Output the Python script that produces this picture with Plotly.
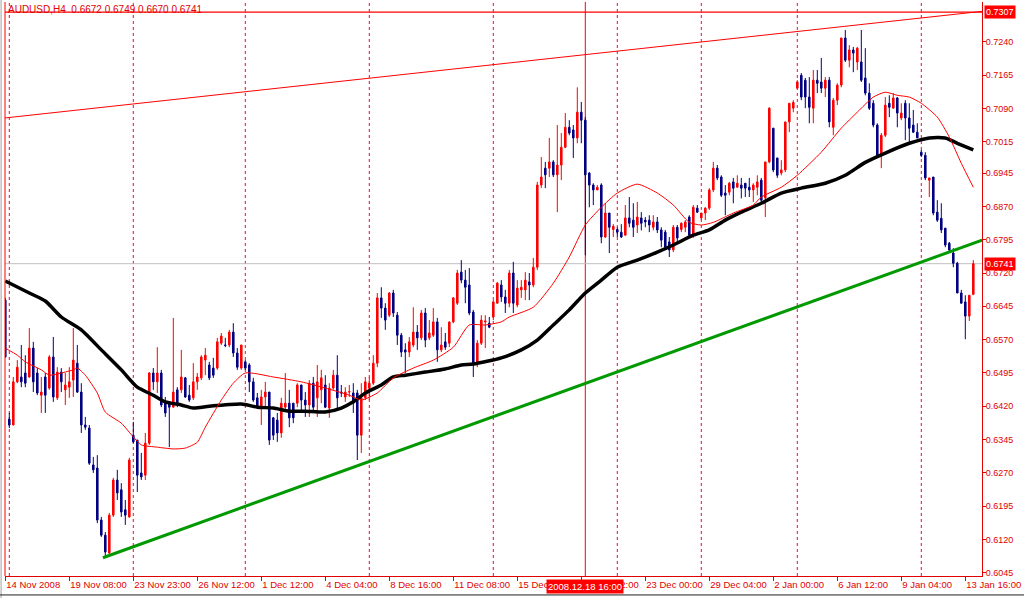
import plotly.graph_objects as go

title_text = "AUDUSD,H4  0.6672 0.6749 0.6670 0.6741"

opens = [0.6659,0.6391,0.6378,0.6475,0.6486,0.6495,0.6486,0.6551,0.6495,0.6445,
0.6486,0.6461,0.6531,0.6439,0.6497,0.6457,0.6463,0.6479,0.6517,0.6452,
0.6378,0.6371,0.6288,0.6281,0.6164,0.6130,0.6090,0.6175,0.6254,0.6232,
0.6187,0.6171,0.6355,0.6344,0.6270,0.6265,0.6337,0.6495,0.6475,0.6495,
0.6427,0.6430,0.6418,0.6457,0.6457,0.6484,0.6445,0.6439,0.6475,0.6484,
0.6524,0.6513,0.6506,0.6506,0.6562,0.6558,0.6558,0.6587,0.6540,0.6506,
0.6520,0.6513,0.6475,0.6439,0.6418,0.6441,0.6452,0.6394,0.6389,0.6360,
0.6418,0.6427,0.6427,0.6427,0.6468,0.6434,0.6423,0.6472,0.6439,0.6457,
0.6468,0.6416,0.6461,0.6490,0.6452,0.6441,0.6452,0.6450,0.6450,0.6355,
0.6439,0.6461,0.6472,0.6517,0.6664,0.6641,0.6625,0.6675,0.6625,0.6580,
0.6547,0.6542,0.6558,0.6587,0.6574,0.6630,0.6574,0.6580,0.6610,0.6547,
0.6565,0.6562,0.6610,0.6652,0.6722,0.6704,0.6693,0.6632,0.6517,0.6562,
0.6610,0.6607,0.6621,0.6652,0.6693,0.6666,0.6652,0.6720,0.6648,0.6682,
0.6682,0.6700,0.6693,0.6733,0.6918,0.6956,0.6956,0.6970,0.6941,0.6963,
0.7003,0.7048,0.7042,0.7024,0.7082,0.7064,0.6945,0.6918,0.6907,0.6918,
0.6801,0.6855,0.6818,0.6818,0.6812,0.6805,0.6844,0.6839,0.6828,0.6844,
0.6839,0.6839,0.6823,0.6835,0.6817,0.6812,0.6790,0.6772,0.6823,0.6818,
0.6823,0.6846,0.6805,0.6866,0.6844,0.6855,0.6866,0.6907,0.6956,0.6936,
0.6900,0.6902,0.6925,0.6913,0.6918,0.6922,0.6913,0.6907,0.6913,0.6929,
0.6889,0.6970,0.7046,0.6979,0.6945,0.6952,0.7060,0.7091,0.7136,0.7165,
0.7154,0.7116,0.7091,0.7154,0.7150,0.7136,0.7154,0.7048,0.7109,0.7143,
0.7249,0.7199,0.7222,0.7195,0.7195,0.7159,0.7125,0.7102,0.7053,0.6985,
0.7030,0.7102,0.7091,0.7114,0.7069,0.7102,0.7069,0.7053,0.7037,0.6992,
0.6985,0.6929,0.6936,0.6857,0.6843,0.6821,0.6787,0.6765,0.6742,0.6675,
0.6655,0.6623,0.6672]

highs = [0.6664,0.6405,0.6486,0.6524,0.6558,0.6535,0.6596,0.6565,0.6506,0.6486,
0.6495,0.6535,0.6576,0.6508,0.6506,0.6495,0.6508,0.6596,0.6558,0.6472,
0.6396,0.6378,0.6306,0.6310,0.6171,0.6137,0.6180,0.6259,0.6277,0.6247,
0.6209,0.6304,0.6385,0.6344,0.6315,0.6360,0.6497,0.6506,0.6553,0.6502,
0.6441,0.6430,0.6619,0.6463,0.6547,0.6486,0.6468,0.6517,0.6495,0.6535,
0.6551,0.6520,0.6529,0.6574,0.6585,0.6574,0.6592,0.6607,0.6551,0.6558,
0.6524,0.6517,0.6484,0.6450,0.6457,0.6475,0.6452,0.6396,0.6405,0.6439,
0.6495,0.6457,0.6427,0.6472,0.6468,0.6452,0.6479,0.6486,0.6513,0.6502,
0.6490,0.6472,0.6502,0.6535,0.6468,0.6463,0.6468,0.6472,0.6457,0.6472,
0.6486,0.6486,0.6535,0.6675,0.6688,0.6652,0.6677,0.6682,0.6632,0.6585,
0.6562,0.6576,0.6643,0.6603,0.6637,0.6641,0.6614,0.6641,0.6619,0.6598,
0.6585,0.6610,0.6666,0.6727,0.6749,0.6727,0.6731,0.6637,0.6569,0.6625,
0.6625,0.6621,0.6659,0.6700,0.6704,0.6682,0.6727,0.6745,0.6704,0.6704,
0.6722,0.6720,0.6754,0.6925,0.6981,0.6970,0.7024,0.6974,0.7053,0.7035,
0.7080,0.7064,0.7053,0.7138,0.7105,0.7071,0.6947,0.6922,0.6918,0.6922,
0.6877,0.6855,0.6830,0.6823,0.6830,0.6873,0.6891,0.6877,0.6880,0.6857,
0.6846,0.6850,0.6850,0.6846,0.6823,0.6817,0.6801,0.6828,0.6828,0.6834,
0.6839,0.6850,0.6873,0.6873,0.6855,0.6868,0.6911,0.6970,0.6963,0.6940,
0.6918,0.6925,0.6934,0.6940,0.6934,0.6922,0.6934,0.6922,0.6940,0.6934,
0.6970,0.7093,0.7046,0.6979,0.6974,0.7060,0.7102,0.7109,0.7154,0.7170,
0.7159,0.7161,0.7177,0.7177,0.7204,0.7161,0.7161,0.7114,0.7147,0.7249,
0.7267,0.7233,0.7229,0.7229,0.7267,0.7226,0.7147,0.7109,0.7057,0.7035,
0.7116,0.7120,0.7125,0.7116,0.7102,0.7109,0.7102,0.7087,0.7057,0.6997,
0.6992,0.6934,0.6936,0.6884,0.6877,0.6821,0.6790,0.6776,0.6745,0.6682,
0.6670,0.6670,0.6749]

lows = [0.6530,0.6371,0.6377,0.6472,0.6463,0.6463,0.6484,0.6452,0.6445,0.6405,
0.6405,0.6457,0.6430,0.6434,0.6452,0.6423,0.6439,0.6441,0.6450,0.6360,
0.6367,0.6288,0.6270,0.6157,0.6126,0.6081,0.6085,0.6171,0.6209,0.6171,
0.6153,0.6169,0.6337,0.6227,0.6254,0.6254,0.6333,0.6457,0.6450,0.6418,
0.6396,0.6328,0.6418,0.6418,0.6450,0.6439,0.6430,0.6434,0.6457,0.6479,
0.6490,0.6479,0.6484,0.6502,0.6558,0.6553,0.6553,0.6531,0.6502,0.6502,
0.6502,0.6452,0.6430,0.6416,0.6378,0.6418,0.6333,0.6344,0.6340,0.6349,
0.6412,0.6373,0.6382,0.6418,0.6405,0.6396,0.6396,0.6407,0.6396,0.6427,
0.6416,0.6394,0.6457,0.6412,0.6441,0.6430,0.6441,0.6405,0.6299,0.6315,
0.6434,0.6434,0.6468,0.6508,0.6619,0.6592,0.6621,0.6621,0.6558,0.6531,
0.6495,0.6531,0.6553,0.6547,0.6569,0.6553,0.6569,0.6576,0.6520,0.6542,
0.6547,0.6553,0.6607,0.6648,0.6697,0.6652,0.6625,0.6486,0.6508,0.6558,
0.6551,0.6596,0.6614,0.6652,0.6655,0.6630,0.6643,0.6630,0.6643,0.6664,
0.6659,0.6659,0.6688,0.6727,0.6911,0.6911,0.6936,0.6936,0.6857,0.6929,
0.7001,0.7030,0.6979,0.7012,0.7012,0.6760,0.6868,0.6873,0.6907,0.6787,
0.6799,0.6765,0.6801,0.6801,0.6799,0.6805,0.6823,0.6801,0.6810,0.6816,
0.6823,0.6812,0.6816,0.6810,0.6778,0.6772,0.6756,0.6767,0.6787,0.6812,
0.6812,0.6801,0.6799,0.6855,0.6839,0.6839,0.6862,0.6902,0.6929,0.6891,
0.6850,0.6895,0.6877,0.6913,0.6888,0.6891,0.6891,0.6880,0.6895,0.6880,
0.6846,0.6967,0.6947,0.6934,0.6940,0.6947,0.7037,0.7082,0.7136,0.7109,
0.7091,0.7057,0.7057,0.7125,0.7125,0.7116,0.7048,0.7030,0.7098,0.7138,
0.7195,0.7183,0.7172,0.7177,0.7150,0.7120,0.7087,0.7048,0.6981,0.6956,
0.7026,0.7071,0.7091,0.7048,0.7064,0.7019,0.7012,0.7035,0.7024,0.6981,
0.6929,0.6891,0.6850,0.6835,0.6810,0.6778,0.6765,0.6733,0.6675,0.6652,
0.6571,0.6612,0.6670]

closes = [0.6531,0.6378,0.6475,0.6508,0.6475,0.6472,0.6551,0.6475,0.6450,0.6452,
0.6445,0.6531,0.6441,0.6497,0.6475,0.6468,0.6475,0.6524,0.6452,0.6378,
0.6373,0.6292,0.6277,0.6164,0.6130,0.6092,0.6175,0.6254,0.6225,0.6182,
0.6175,0.6299,0.6340,0.6265,0.6261,0.6337,0.6495,0.6475,0.6495,0.6423,
0.6405,0.6418,0.6452,0.6427,0.6486,0.6441,0.6434,0.6475,0.6486,0.6531,
0.6535,0.6484,0.6490,0.6565,0.6578,0.6557,0.6587,0.6540,0.6508,0.6558,
0.6506,0.6475,0.6434,0.6418,0.6441,0.6452,0.6344,0.6355,0.6360,0.6427,
0.6427,0.6394,0.6394,0.6468,0.6434,0.6423,0.6472,0.6418,0.6475,0.6484,
0.6418,0.6461,0.6490,0.6439,0.6450,0.6452,0.6453,0.6427,0.6355,0.6439,
0.6475,0.6472,0.6517,0.6664,0.6641,0.6614,0.6675,0.6630,0.6580,0.6542,
0.6542,0.6565,0.6587,0.6574,0.6630,0.6569,0.6585,0.6610,0.6547,0.6558,
0.6553,0.6610,0.6664,0.6720,0.6704,0.6688,0.6630,0.6517,0.6562,0.6614,
0.6612,0.6598,0.6655,0.6697,0.6666,0.6652,0.6720,0.6652,0.6686,0.6688,
0.6704,0.6693,0.6733,0.6918,0.6936,0.6941,0.6970,0.6941,0.6963,0.7003,
0.7048,0.7035,0.7024,0.7082,0.7064,0.6941,0.6918,0.6907,0.6913,0.6801,
0.6855,0.6823,0.6825,0.6812,0.6801,0.6844,0.6832,0.6823,0.6846,0.6832,
0.6835,0.6828,0.6835,0.6817,0.6794,0.6778,0.6772,0.6823,0.6799,0.6832,
0.6835,0.6805,0.6868,0.6857,0.6855,0.6866,0.6907,0.6956,0.6934,0.6895,
0.6895,0.6922,0.6911,0.6922,0.6911,0.6911,0.6907,0.6918,0.6925,0.6884,
0.6970,0.7091,0.6952,0.6940,0.6952,0.7060,0.7102,0.7104,0.7150,0.7116,
0.7116,0.7093,0.7154,0.7147,0.7136,0.7154,0.7060,0.7109,0.7143,0.7249,
0.7199,0.7222,0.7215,0.7226,0.7154,0.7125,0.7091,0.7053,0.6985,0.7030,
0.7098,0.7093,0.7114,0.7080,0.7080,0.7069,0.7046,0.7037,0.7024,0.6985,
0.6934,0.6934,0.6855,0.6839,0.6817,0.6783,0.6772,0.6742,0.6675,0.6652,
0.6623,0.6670,0.6741]

bars = list(range(len(opens)))

x_tick_index = [0, 16, 32, 48, 64, 80, 96, 112, 128, 144, 160, 176, 192, 208, 224, 240]
x_tick_labels = ["14 Nov 2008", "19 Nov 08:00", "23 Nov 23:00", "26 Nov 12:00",
                 "1 Dec 12:00", "4 Dec 04:00", "8 Dec 16:00", "11 Dec 08:00",
                 "15 Dec 20:00", "18 Dec 12:00", "23 Dec 00:00", "29 Dec 04:00",
                 "2 Jan 00:00", "6 Jan 12:00", "9 Jan 04:00", "13 Jan 16:00"]
y_tick_labels = ["0.7240", "0.7165", "0.7090", "0.7015", "0.6945", "0.6870",
                 "0.6795", "0.6720", "0.6645", "0.6570", "0.6495", "0.6420",
                 "0.6345", "0.6270", "0.6195", "0.6120", "0.6045"]

slow_ma_index = [0, 6, 10, 14, 19, 24, 29, 33, 37, 40, 44, 47, 51, 59, 63, 67, 71, 75, 80,
                 84, 87, 90, 94, 97, 100, 105, 110, 114, 117, 124, 129, 133, 137, 141, 145,
                 149, 153, 158, 163, 167, 172, 176, 180, 184, 189, 194, 199, 205, 210, 215,
                 220, 226, 231, 235, 238, 242]
slow_ma_value = [0.6702, 0.6675, 0.6657, 0.6621, 0.6592, 0.6547, 0.6502, 0.6463, 0.6445,
                 0.6430, 0.6423, 0.6416, 0.6420, 0.6425, 0.6418, 0.6416, 0.6409, 0.6409,
                 0.6407, 0.6416, 0.6430, 0.6450, 0.6468, 0.6486, 0.6490, 0.6497, 0.6504,
                 0.6513, 0.6515, 0.6529, 0.6547, 0.6569, 0.6603, 0.6637, 0.6675, 0.6704,
                 0.6733, 0.6749, 0.6767, 0.6783, 0.6805, 0.6817, 0.6839, 0.6857, 0.6877,
                 0.6900, 0.6911, 0.6922, 0.6940, 0.6969, 0.6990, 0.7012, 0.7024, 0.7024,
                 0.7012, 0.6997]

fast_ma_index = [0, 3, 5, 9, 11, 14, 17, 18, 20, 23, 25, 29, 32, 34, 38, 42, 45, 48, 50,
                 54, 57, 60, 67, 74, 80, 86, 89, 93, 97, 102, 107, 112, 116, 120, 124, 126,
                 132, 137, 141, 145, 149, 153, 158, 163, 167, 171, 174, 177, 182, 187, 189,
                 194, 198, 204, 209, 213, 217, 220, 223, 226, 229, 233, 236, 239, 242]
fast_ma_value = [0.6551, 0.6535, 0.6520, 0.6502, 0.6490, 0.6495, 0.6502, 0.6506, 0.6490,
                 0.6450, 0.6407, 0.6382, 0.6351, 0.6333, 0.6328, 0.6324, 0.6326, 0.6339,
                 0.6373, 0.6434, 0.6472, 0.6495, 0.6486, 0.6475, 0.6461, 0.6445, 0.6434,
                 0.6450, 0.6484, 0.6506, 0.6524, 0.6553, 0.6603, 0.6603, 0.6610, 0.6621,
                 0.6643, 0.6697, 0.6756, 0.6828, 0.6868, 0.6900, 0.6920, 0.6900, 0.6873,
                 0.6834, 0.6828, 0.6834, 0.6855, 0.6873, 0.6891, 0.6913, 0.6940, 0.6992,
                 0.7046, 0.7082, 0.7116, 0.7127, 0.7120, 0.7116, 0.7102, 0.7071, 0.7026,
                 0.6967, 0.6913]

support_index = [24.4, 244.2]
support_value = [0.6079, 0.6794]
resistance_index = [-0.1, 244.2]
resistance_value = [0.7069, 0.7309]

level_price = 0.7307
last_price = 0.6741
separator_index = [1, 32, 60, 91, 122, 153, 174, 198, 229]
cursor_index = 145
cursor_label = "2008.12.18 16:00"

RED = "#ff0000"
AXRED = "#e00000"
NAVY = "#000080"
FONT = "Liberation Sans"

fig = go.Figure()

fig.add_trace(go.Candlestick(
    x=bars, open=opens, high=highs, low=lows, close=closes,
    increasing=dict(line=dict(color=RED, width=1), fillcolor=RED),
    decreasing=dict(line=dict(color=NAVY, width=1), fillcolor=NAVY),
    whiskerwidth=0, hoverinfo="skip", showlegend=False))

fig.add_trace(go.Scatter(x=slow_ma_index, y=slow_ma_value, mode="lines",
                         line=dict(color="#000000", width=3.5, shape="spline", smoothing=0.6),
                         hoverinfo="skip", showlegend=False))
fig.add_trace(go.Scatter(x=fast_ma_index, y=fast_ma_value, mode="lines",
                         line=dict(color=RED, width=1, shape="spline", smoothing=0.6),
                         hoverinfo="skip", showlegend=False))
fig.add_trace(go.Scatter(x=support_index, y=support_value, mode="lines",
                         line=dict(color="#009900", width=3),
                         hoverinfo="skip", showlegend=False))
fig.add_trace(go.Scatter(x=resistance_index, y=resistance_value, mode="lines",
                         line=dict(color=RED, width=1),
                         hoverinfo="skip", showlegend=False))

shapes = []
for s in separator_index:
    shapes.append(dict(type="line", xref="x", yref="paper", x0=s, x1=s, y0=0, y1=1,
                       line=dict(color="#ff0030", width=1, dash="3px,3px"), layer="below"))
shapes.append(dict(type="line", xref="x", yref="paper", x0=cursor_index, x1=cursor_index,
                   y0=0, y1=1, line=dict(color=RED, width=1), layer="below"))
shapes.append(dict(type="line", xref="paper", yref="y", x0=0, x1=1, y0=last_price, y1=last_price,
                   line=dict(color="#c0c0c0", width=1), layer="below"))
shapes.append(dict(type="line", xref="paper", yref="y", x0=0, x1=1, y0=level_price, y1=level_price,
                   line=dict(color=RED, width=1.2)))
shapes.append(dict(type="line", xref="paper", yref="paper", x0=0, x1=0, y0=0, y1=1,
                   line=dict(color=RED, width=1)))
shapes.append(dict(type="line", xref="paper", yref="paper", x0=-0.004, x1=-0.004, y0=-0.05, y1=1.01,
                   line=dict(color="#a0a0a0", width=1)))
shapes.append(dict(type="line", xref="paper", yref="paper", x0=-0.01, x1=1.05, y0=-0.033, y1=-0.033,
                   line=dict(color="#202020", width=1)))

annotations = [
    dict(text=title_text, xref="paper", yref="paper", x=0, y=1, xanchor="left", yanchor="top",
         xshift=1, yshift=0, showarrow=False, font=dict(family=FONT, size=10, color=AXRED)),
    dict(text=f"{level_price:.4f}", xref="paper", yref="y", x=1, y=level_price, xanchor="left",
         xshift=2, showarrow=False, bgcolor=RED, borderpad=1,
         font=dict(family=FONT, size=9, color="white")),
    dict(text=f"{last_price:.4f}", xref="paper", yref="y", x=1, y=last_price, xanchor="left",
         xshift=2, showarrow=False, bgcolor=RED, borderpad=1,
         font=dict(family=FONT, size=9, color="white")),
    dict(text=cursor_label, xref="x", yref="paper", x=cursor_index, y=0, yanchor="top",
         yshift=-3, showarrow=False, bgcolor=RED, borderpad=1,
         font=dict(family=FONT, size=9.5, color="white")),
]

fig.update_layout(
    width=1024, height=598,
    margin=dict(l=5, r=42, t=2, b=22, autoexpand=False),
    paper_bgcolor="white", plot_bgcolor="white",
    boxgap=0.45,
    shapes=shapes, annotations=annotations,
    showlegend=False,
    xaxis=dict(range=[-0.075, 244.175], tickvals=x_tick_index, ticktext=x_tick_labels,
               tickangle=0, automargin=False,
               ticks="outside", ticklen=4, tickcolor=AXRED, showline=True, linecolor=AXRED,
               linewidth=1, showgrid=False, zeroline=False, ticklabelposition="outside right",
               tickfont=dict(family=FONT, size=9.5, color=AXRED), rangeslider=dict(visible=False),
               fixedrange=True),
    yaxis=dict(range=[0.6038, 0.7330], side="right", tickvals=[float(t) for t in y_tick_labels],
               ticktext=y_tick_labels, ticks="outside", ticklen=3, tickcolor=AXRED,
               automargin=False, ticklabelstandoff=-2,
               showline=True, linecolor=AXRED, linewidth=1, showgrid=False, zeroline=False,
               tickfont=dict(family=FONT, size=9, color=AXRED), fixedrange=True),
)

fig.write_html("out.html", config={"displayModeBar": False},
               post_script="document.body.style.margin='0px';document.body.style.overflow='hidden';")
